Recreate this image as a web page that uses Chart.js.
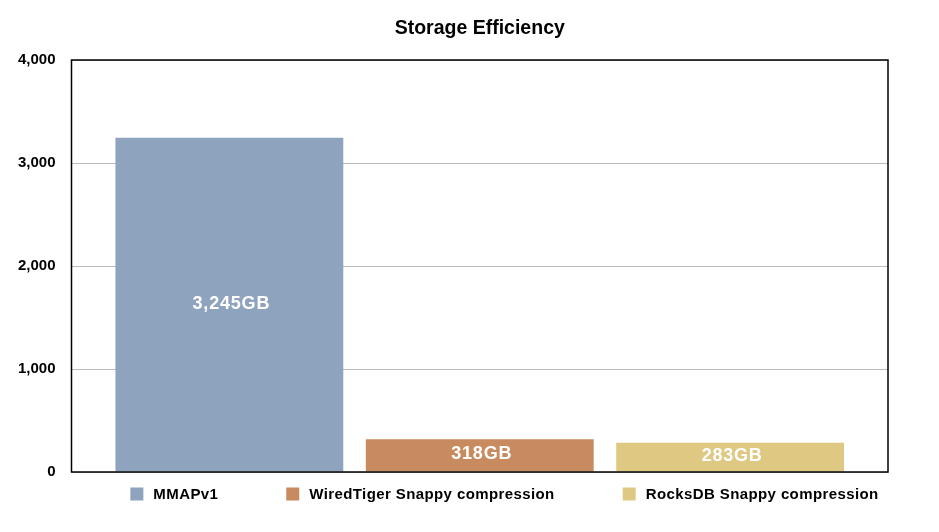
<!DOCTYPE html>
<html>
<head>
<meta charset="utf-8">
<script src="https://cdn.jsdelivr.net/npm/chart.js@4/dist/chart.umd.min.js"></script>
<style>
  html, body { margin: 0; padding: 0; background: #ffffff; }
  #c { display: block; }
</style>
</head>
<body>
<canvas id="c" width="939" height="532"></canvas>
<script>
// ---- Data ----
const chartTitle = 'Storage Efficiency';
const categories = [''];
const seriesNames = ['MMAPv1', 'WiredTiger Snappy compression', 'RocksDB Snappy compression'];
const seriesValues = [3245, 318, 283];
const seriesColors = ['#8DA3BE', '#C78B5F', '#DFC982'];
const yTicks = [0, 1000, 2000, 3000, 4000];

const FONT = '"Liberation Sans", Arial, Helvetica, sans-serif';

const datasets = seriesNames.map((name, i) => ({
  label: name,
  data: [seriesValues[i]],
  backgroundColor: seriesColors[i],
  borderWidth: 0,
  categoryPercentage: 0.92,
  barPercentage: 0.91
}));

const framePlugin = {
  id: 'frame',
  afterDatasetsDraw(chart) {
    const { ctx, chartArea: a } = chart;
    ctx.save();
    // bar value labels
    chart.data.datasets.forEach((ds, i) => {
      const meta = chart.getDatasetMeta(i);
      const el = meta.data[0];
      if (!el) return;
      const v = ds.data[0];
      ctx.font = 'bold 18px ' + FONT;
      if ('letterSpacing' in ctx) ctx.letterSpacing = '0.8px';
      ctx.fillStyle = '#ffffff';
      ctx.textAlign = 'center';
      ctx.textBaseline = 'middle';
      ctx.fillText(v.toLocaleString('en-US') + 'GB', el.x + 2, (el.y + el.base) / 2 - 1);
    });
    if ('letterSpacing' in ctx) ctx.letterSpacing = '0px';
    // chart area border
    ctx.strokeStyle = '#000000';
    ctx.lineWidth = 1.5;
    ctx.strokeRect(a.left, a.top, a.right - a.left, a.bottom - a.top);
    ctx.restore();
  },
  afterDraw(chart) {
    const { ctx, chartArea: a } = chart;
    ctx.save();
    // title centred over plot area
    ctx.font = 'bold 19.5px ' + FONT;
    ctx.fillStyle = '#000000';
    ctx.textAlign = 'center';
    ctx.textBaseline = 'middle';
    ctx.fillText(chartTitle, (a.left + a.right) / 2, 29);
    // legend
    ctx.font = 'bold 15px ' + FONT;
    if ('letterSpacing' in ctx) ctx.letterSpacing = '0.4px';
    const box = 13, boxGap = 10, itemGap = 68;
    const widths = chart.data.datasets.map(ds => box + boxGap + ctx.measureText(ds.label).width);
    const total = widths.reduce((s, w) => s + w, 0) + itemGap * (widths.length - 1);
    let x = chart.width / 2 + 35 - total / 2;
    const yc = 494;
    chart.data.datasets.forEach((ds, i) => {
      ctx.fillStyle = ds.backgroundColor;
      ctx.fillRect(x, yc - box / 2, box, box);
      ctx.fillStyle = '#000000';
      ctx.textAlign = 'left';
      ctx.textBaseline = 'middle';
      ctx.fillText(ds.label, x + box + boxGap, yc + 1);
      x += widths[i] + itemGap;
    });
    ctx.restore();
  }
};

new Chart(document.getElementById('c'), {
  type: 'bar',
  data: { labels: categories, datasets },
  options: {
    responsive: false,
    animation: false,
    devicePixelRatio: 1,
    layout: { padding: { left: 0, right: 51, top: 60, bottom: 60 } },
    plugins: {
      legend: { display: false },
      tooltip: { enabled: false },
      title: { display: false }
    },
    scales: {
      x: {
        display: false
      },
      y: {
        min: 0,
        max: 4000,
        afterBuildTicks(scale) { scale.ticks = yTicks.map(v => ({ value: v })); },
        afterFit(scale) { scale.width = 71.5; },
        ticks: {
          color: '#000000',
          font: { family: FONT, size: 15, weight: 'bold' },
          padding: 16,
          callback: v => v.toLocaleString('en-US')
        },
        grid: { color: '#BBBBBB', lineWidth: 1, drawTicks: false },
        border: { display: false }
      }
    }
  },
  plugins: [framePlugin]
});
</script>
</body>
</html>
